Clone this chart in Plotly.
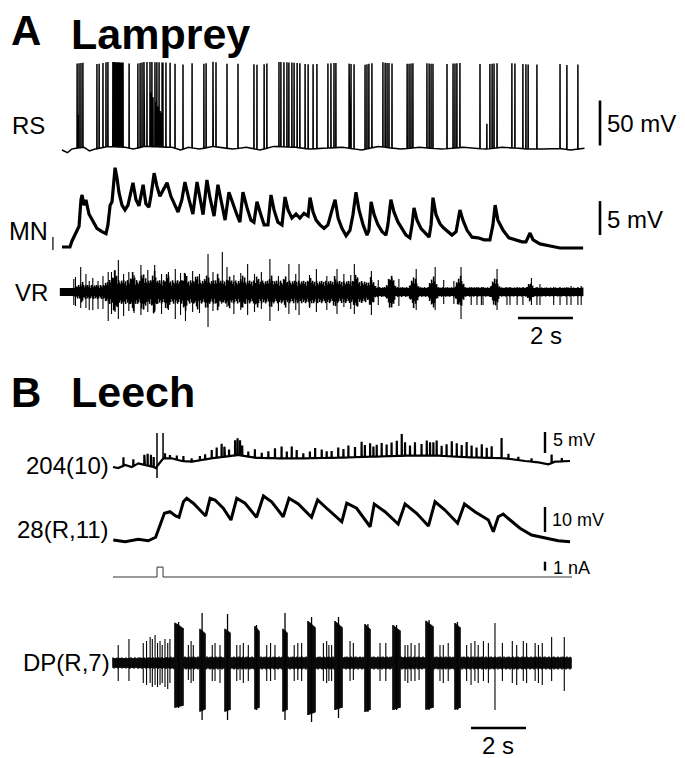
import numpy as np
import plotly.graph_objects as go

# =====================================================================
# DATA
# Panel A - lamprey. Time in s; potentials in mV relative to rest.
# =====================================================================
rs_spike_t = [0.55, 0.62, 0.69, 0.76, 1.27, 1.35, 1.49, 1.60, 1.67,
              1.85, 1.89, 1.93, 1.96, 2.00, 2.04, 2.07, 2.11, 2.15, 2.18, 2.22,
              2.44, 2.76, 2.84, 2.91, 2.98, 3.09, 3.20, 3.27, 3.38, 3.45, 3.53,
              3.64, 3.67, 3.78, 3.93, 4.11, 4.40, 4.73, 5.16, 5.24, 5.49, 5.60,
              6.00, 6.40, 6.98, 7.09, 7.35, 7.45, 7.89, 7.96, 8.07, 8.18, 8.25,
              8.36, 8.44, 8.55, 8.65, 8.84, 8.95, 9.13, 9.27, 9.67, 9.78, 9.89,
              9.96, 10.44, 10.51, 10.62, 11.02, 11.09, 11.16, 11.27, 11.67, 11.75,
              11.82, 11.89, 12.00, 12.55, 12.62, 12.69, 12.76, 13.27, 13.35, 13.42,
              13.49, 14.00, 14.22, 14.29, 14.36, 14.47, 15.20, 15.56, 15.64,
              15.71, 15.82, 16.36, 16.47, 16.76, 16.87, 16.95, 17.27, 18.11, 18.36, 18.76]
rs_spike_peak = 94.0
rs_short_t = [0.58, 3.24, 3.31, 3.42, 3.49, 3.57, 3.60, 10.47, 15.45]
rs_short_v = [37, 60, 55, 50, 45, 40, 38, 31, 28]
rs_base_t = [0.0, 0.2, 0.35, 0.5, 0.8, 1.0, 1.2, 1.7, 2.3, 2.6, 3.0, 4.0, 4.3, 4.6,
             5.0, 5.5, 6.2, 6.7, 7.2, 7.7, 8.5, 9.0, 9.5, 10.2, 10.9, 11.5, 12.3,
             13.0, 13.8, 14.6, 15.0, 15.4, 16.0, 16.6, 17.0, 17.5, 18.0, 18.5, 19.0]
rs_base_v = [0, -3, 1, 2, 3, -1, 1, 4, 3, 1, 4, 3, 0, 3, 1, 4, 1, 3, 0, 4, 3, 1, 2,
             3, 0, 4, 1, 3, 1, 3, 2, 1, 3, 2, 1, 1, 2, 0, 2]

mn_t = [0.00, 0.29, 0.36, 0.51, 0.62, 0.69, 0.73, 0.80, 0.87, 0.98, 1.13, 1.27, 1.45,
        1.60, 1.67, 1.75, 1.82, 1.89, 1.93, 2.00, 2.07, 2.18, 2.29, 2.40, 2.47, 2.58,
        2.69, 2.80, 2.95, 3.05, 3.16, 3.24, 3.35, 3.45, 3.56, 3.67, 3.82, 3.96, 4.11,
        4.22, 4.36, 4.47, 4.62, 4.76, 4.91, 5.02, 5.13, 5.27, 5.38, 5.53, 5.67, 5.78,
        5.93, 6.07, 6.22, 6.36, 6.47, 6.58, 6.73, 6.87, 6.98, 7.09, 7.20, 7.35, 7.49,
        7.60, 7.71, 7.85, 8.00, 8.11, 8.22, 8.36, 8.51, 8.65, 8.80, 8.95, 9.02, 9.13,
        9.24, 9.38, 9.53, 9.67, 9.82, 9.93, 10.04, 10.18, 10.33, 10.47, 10.58, 10.69,
        10.80, 10.95, 11.09, 11.16, 11.24, 11.35, 11.49, 11.64, 11.78, 11.85, 11.96,
        12.07, 12.22, 12.36, 12.51, 12.65, 12.73, 12.80, 12.91, 13.05, 13.20, 13.35,
        13.42, 13.49, 13.60, 13.75, 13.89, 14.04, 14.18, 14.33, 14.40, 14.47, 14.58,
        14.73, 14.91, 15.13, 15.35, 15.56, 15.67, 15.75, 15.85, 16.04, 16.25, 16.51,
        16.73, 16.87, 16.95, 17.02, 17.13, 17.38, 17.75, 18.11, 18.47, 18.95]
mn_v = [0.15, 0.15, 1.0, 2.2, 3.2, 7.1, 7.8, 6.3, 7.1, 5.0, 3.8, 2.9, 2.4,
        2.1, 3.4, 6.3, 6.8, 10.0, 11.8, 10.3, 8.2, 6.3, 5.6, 6.3, 7.8, 9.6,
        7.1, 6.2, 9.3, 6.5, 6.0, 7.8, 11.0, 9.1, 7.6, 8.5, 9.6, 7.6, 6.2,
        5.3, 7.1, 9.7, 7.1, 5.0, 9.7, 7.1, 4.9, 10.0, 7.4, 4.7, 9.3, 7.1,
        4.1, 8.2, 6.3, 4.9, 3.8, 8.2, 5.9, 4.1, 3.8, 6.8, 5.3, 3.4, 3.4,
        7.8, 5.6, 3.8, 3.4, 7.5, 5.6, 4.4, 5.0, 4.4, 5.1, 4.7, 7.4, 5.3,
        4.1, 3.4, 2.9, 3.4, 5.6, 7.1, 4.4, 2.9, 1.8, 2.6, 4.9, 8.2,
        5.6, 3.4, 1.9, 2.6, 6.8, 4.9, 3.4, 2.4, 1.9, 3.4, 7.1,
        5.3, 3.8, 2.9, 1.9, 1.5, 3.4, 5.9, 4.1, 2.9, 2.2, 1.6,
        3.4, 7.4, 4.9, 3.5, 2.9, 2.4, 1.9, 2.4, 4.1, 5.6, 4.1,
        2.6, 1.6, 1.5, 1.2, 1.2, 3.4, 6.3, 4.1, 2.6, 1.5, 1.2,
        0.9, 0.9, 1.5, 2.2, 1.2, 0.6, 0.3, 0.0, 0.0, 0.0]

# VR (arbitrary units): background envelope, bursts and single units
vr_env_t = [-0.05, 0.4, 0.6, 1.5, 1.7, 11.0, 11.3, 18.95]
vr_env_v = [4, 4, 7, 7, 12, 11, 5, 4.5]
vr_burst_t = [0.73, 1.93, 2.58, 2.95, 3.35, 3.82, 4.47, 4.91, 5.27, 5.67, 6.07, 6.58,
              7.09, 7.60, 8.11, 9.02, 9.93, 10.69, 11.24, 11.96, 12.80, 13.49, 14.47,
              15.75, 17.02]
vr_burst_amp = [11, 23, 21, 21, 23, 20, 21, 19, 19, 19, 18, 19, 17, 18, 17, 16, 17, 19,
                16, 19, 17, 17, 18, 16, 10]
vr_spike_t = [0.43, 0.68, 0.99, 1.31, 1.68, 2.05, 2.87, 3.37, 4.12, 4.49, 5.31, 5.83,
              6.00, 6.75, 7.56, 8.25, 8.62, 9.25, 10.00, 10.63, 11.25, 12.88, 13.57,
              14.51, 14.88, 15.09, 15.25, 15.31, 15.82, 16.18, 16.29, 16.55, 16.76,
              17.07, 17.27, 17.38, 17.88, 18.11, 18.36, 18.51, 18.76, 18.88]
vr_spike_up = [13, 25, 11, 11, 20, 32, 27, 27, 23, 18, 38, 40, 25, 28, 33, 28, 28, 23,
               23, 28, 21, 23, 25, 25, 5, 5, 5, 5, 23, 5, 5, 5, 5, 14, 5, 8, 5, 5, 5,
               6, 5, 6]
vr_spike_dn = [13, 16, 18, 17, 29, 27, 23, 20, 27, 29, 35, 10, 15, 23, 29, 22, 23, 20,
               22, 22, 23, 18, 18, 27, 13, 13, 13, 13, 18, 13, 13, 13, 13, 13, 13, 13,
               13, 13, 13, 13, 13, 13]
vr_unit_t = [0.49, 0.87, 1.12, 1.49, 1.80, 1.93, 2.24, 2.43, 2.62, 3.12, 3.62, 3.87,
             4.31, 4.75, 5.00, 5.49, 6.25, 6.50, 7.00, 7.25, 7.87, 8.50, 9.00, 9.63,
             10.25, 10.50, 11.50, 12.00, 12.25, 13.88, 14.25]
vr_unit_up = [15, 18, 14, 16, 20, 22, 18, 20, 17, 22, 18, 20, 19, 21, 18, 20, 17, 19,
              18, 20, 16, 18, 17, 16, 18, 17, 12, 14, 13, 12, 11]
vr_unit_dn = [14, 16, 18, 17, 22, 20, 24, 19, 21, 20, 22, 18, 23, 20, 21, 19, 22, 18,
              20, 17, 19, 18, 16, 18, 15, 17, 13, 12, 14, 12, 12]

# =====================================================================
# Panel B - leech
# =====================================================================
n204_base_t = [0.0, 0.19, 0.44, 0.68, 0.92, 1.16, 1.47, 1.55, 1.83, 2.13, 2.50, 2.86,
               3.22, 3.59, 4.07, 4.56, 5.16, 6.01, 6.98, 8.19, 9.41, 10.62, 11.83,
               13.04, 14.25, 14.98, 15.47, 15.83, 16.07, 16.62]
n204_base_v = [0.0, -0.24, 0.48, 0.0, 0.87, 0.48, 0.0, -0.24, 2.07, 2.07, 1.43, 1.27,
               1.67, 2.07, 2.46, 2.86, 2.22, 2.07, 2.07, 2.22, 2.46, 2.7, 2.7, 2.3,
               2.07, 1.43, 1.11, 0.63, 1.27, 1.43]
n204_spike_t = [0.38, 0.74, 1.14, 1.26, 1.38, 1.48, 1.89, 2.07, 2.32, 2.56, 2.86, 3.16,
                3.35, 3.59, 3.77, 3.95, 4.05, 4.22, 4.44, 4.53, 4.62, 4.70, 4.92, 5.16,
                5.41, 5.65, 5.89, 6.13, 6.32, 6.50, 6.68, 6.92, 7.16, 7.35, 7.59, 7.77,
                7.95, 8.19, 8.38, 8.56, 8.80, 9.04, 9.16, 9.35, 9.47, 9.59, 9.77, 9.95,
                10.13, 10.32, 10.50, 10.62, 10.80, 10.98, 11.22, 11.41, 11.53, 11.65,
                11.77, 11.95, 12.13, 12.32, 12.50, 12.68, 12.86, 13.04, 13.22, 13.41,
                13.59, 13.77, 14.13, 14.38, 14.74, 15.22, 15.95, 16.32]
n204_spike_h = [2.0, 1.6, 2.4, 2.8, 2.8, 2.4, 1.2, 0.8, 1.0, 1.2, 0.8, 1.0, 1.2, 2.0,
                2.4, 3.2, 2.4, 1.6, 3.6, 4.0, 3.6, 2.4, 1.2, 2.0, 1.2, 1.6, 2.4, 2.8,
                1.6, 2.8, 2.0, 1.2, 1.6, 2.4, 2.0, 1.6, 1.6, 2.4, 2.0, 2.8, 2.4, 3.6,
                2.8, 3.2, 2.4, 2.8, 3.2, 2.8, 3.2, 3.6, 5.2, 3.2, 2.4, 3.2, 2.8, 3.6,
                3.2, 3.2, 3.6, 2.4, 2.8, 3.6, 3.2, 2.8, 3.6, 2.8, 2.4, 3.2, 2.4, 2.8,
                4.8, 1.2, 0.8, 0.8, 2.0, 0.8]
n204_big_t = [1.60, 1.82]
n204_big_lo = [-2.6, 2.0]
n204_big_hi = [8.1, 8.1]

n28_t = [0.01, 0.44, 0.92, 1.28, 1.55, 1.71, 1.87, 2.07, 2.28, 2.40, 2.56, 2.68, 2.92,
         3.16, 3.37, 3.53, 3.71, 4.01, 4.29, 4.50, 4.80, 5.22, 5.47, 5.77, 6.19, 6.40,
         6.74, 7.22, 7.44, 7.77, 8.32, 8.50, 8.86, 9.35, 9.50, 9.89, 10.37, 10.62,
         11.04, 11.47, 11.71, 12.07, 12.53, 12.78, 13.16, 13.65, 13.83, 14.01, 14.19,
         14.44, 14.80, 15.22, 15.71, 16.19, 16.62]
n28_v = [0.4, -0.3, 0.7, 0.1, 1.5, 6.4, 11.1, 11.7, 10.0, 9.5, 15.7, 17.1, 15.1, 12.4,
         10.0, 17.1, 16.4, 13.1, 8.4, 17.1, 15.1, 9.5, 18.0, 15.7, 9.7, 17.1, 14.8,
         9.5, 16.4, 13.1, 7.7, 15.1, 13.1, 5.7, 14.8, 11.7, 6.8, 14.8, 11.1, 6.0, 15.7,
         12.4, 7.1, 14.8, 11.7, 8.4, 3.7, 9.7, 10.8, 8.4, 5.1, 2.4, 1.1, 0.1, -0.3]

stim_t = [0.0, 1.60, 1.60, 1.82, 1.82, 16.69]
stim_v = [0.0, 0.0, 1.1, 1.1, 0.0, 0.0]

dp_env_t = [0.0, 2.0, 2.3, 16.69]
dp_env_v = [5.5, 6.0, 6.5, 6.5]
dp_burst_t0 = [2.22, 3.13, 4.04, 5.13, 6.15, 7.09, 8.07, 9.16, 10.18, 11.35, 12.40]
dp_burst_t1 = [2.55, 3.35, 4.29, 5.31, 6.36, 7.35, 8.33, 9.38, 10.44, 11.64, 12.65]
dp_burst_top = [41, 35, 35, 38, 35, 42, 42, 39, 38, 43, 41]
dp_burst_bot = [45, 49, 49, 47, 49, 52, 47, 49, 47, 47, 47]
dp_burst_pk_up = [41, 50, 49, 38, 50, 46, 46, 39, 38, 43, 41]
dp_burst_pk_dn = [45, 57, 57, 47, 57, 59, 55, 49, 47, 47, 47]
dp_spike_t = [0.19, 0.58, 1.10, 1.22, 1.35, 1.43, 1.53, 1.62, 1.71, 1.79, 1.89, 1.99,
              2.07, 2.74, 2.84, 2.92, 3.61, 3.71, 3.89, 4.50, 4.62, 4.74, 4.92, 5.59,
              5.73, 5.89, 6.59, 6.72, 6.86, 7.65, 7.77, 7.85, 7.95, 8.62, 8.74, 9.71,
              9.92, 10.62, 10.72, 10.84, 10.98, 11.13, 11.89, 12.01, 12.19, 12.86,
              13.02, 13.16, 13.28, 13.47, 13.65, 13.89, 14.16, 14.52, 14.68, 14.92,
              15.04, 15.35, 15.47, 15.61, 15.95, 16.41]
dp_spike_up = [18, 24, 20, 22, 26, 24, 28, 20, 22, 18, 24, 20, 24, 18, 22, 18, 18, 20,
               18, 18, 18, 20, 18, 18, 20, 18, 18, 20, 20, 20, 22, 18, 18, 22, 20, 20,
               20, 18, 18, 20, 18, 20, 18, 18, 20, 18, 20, 22, 18, 22, 20, 40, 20, 22,
               18, 22, 20, 20, 18, 20, 26, 26]
dp_spike_dn = [18, 18, 20, 22, 20, 24, 22, 24, 22, 20, 24, 26, 20, 17, 20, 18, 18, 18,
               20, 18, 17, 20, 18, 18, 18, 17, 18, 17, 18, 18, 20, 18, 18, 18, 17, 18,
               18, 18, 20, 18, 18, 17, 18, 20, 18, 18, 22, 18, 20, 18, 20, 47, 18, 20,
               22, 18, 20, 18, 20, 22, 18, 28]

# =====================================================================
# LAYOUT / STYLE (pixels)
# =====================================================================
W, H = 685, 758
PX_PER_S = 27.5
XA0, XB0 = 62, 113            # pixel column of t = 0 in panel A / B
ROWS = {                      # baseline pixel row, pixels per unit
    'y': (150, 0.9),          # RS   (mV)
    'y2': (248, 6.8),         # MN   (mV)
    'y3': (292, 1.0),         # VR   (a.u.)
    'y4': (467, 4.2),         # 204  (mV)
    'y5': (541, 2.5),         # 28   (mV)
    'y6': (577, 9.0),         # I    (nA)
    'y7': (663, 1.0),         # DP   (a.u.)
}
TEX_UP = [1.0, 0.7, 0.9, 0.55, 1.0, 0.8, 0.65, 0.95, 0.75]
TEX_DN = [0.8, 1.0, 0.6, 0.9, 0.7, 1.0, 0.85, 0.6]
FONT = 'Liberation Sans, Arial, sans-serif'

fig = go.Figure()


def add_line(x, y, xa, ya, width, color='black'):
    fig.add_trace(go.Scatter(x=x, y=y, xaxis=xa, yaxis=ya, mode='lines',
                             line=dict(color=color, width=width),
                             hoverinfo='skip', showlegend=False))


def spike_path(bt, bv, st, sh, dt=0.008):
    pts = list(zip(bt, bv))
    for t, h in zip(st, sh):
        b = float(np.interp(t, bt, bv))
        pts += [(t - dt / 2, b), (t, b + h), (t + dt / 2, b)]
    pts.sort(key=lambda p: p[0])
    return [p[0] for p in pts], [p[1] for p in pts]


def segments(ts, lo, hi):
    xs, ys = [], []
    for t, a, b in zip(ts, lo, hi):
        xs += [t, t, None]
        ys += [a, b, None]
    return xs, ys


def textured(env):
    n = len(env)
    up = np.array([TEX_UP[i % len(TEX_UP)] for i in range(n)]) * env
    dn = np.array([TEX_DN[i % len(TEX_DN)] for i in range(n)]) * env
    return -np.maximum(dn, 4.0), np.maximum(up, 4.0)


# ---- RS ----
x, y = spike_path(rs_base_t, rs_base_v, rs_spike_t + rs_short_t,
                  [rs_spike_peak] * len(rs_spike_t) + rs_short_v)
add_line(x, y, 'x', 'y', 1.5)

# ---- MN ----
add_line(mn_t, mn_v, 'x', 'y2', 3.2)

# ---- VR ----
tA = np.arange(vr_env_t[0], vr_env_t[-1], 1 / PX_PER_S)
env = np.interp(tA, vr_env_t, vr_env_v)
for tc, a in zip(vr_burst_t, vr_burst_amp):
    env = np.maximum(env, a * np.clip(1 - np.abs(tA - tc) / 0.26, 0, 1))
lo, hi = textured(env)
x, y = segments(tA, lo, hi)
add_line(x, y, 'x', 'y3', 1.6)
x, y = segments(vr_spike_t + vr_unit_t,
                [-d for d in vr_spike_dn + vr_unit_dn], vr_spike_up + vr_unit_up)
add_line(x, y, 'x', 'y3', 1.1)

# ---- 204(10) ----
x, y = spike_path(n204_base_t, n204_base_v, n204_spike_t, n204_spike_h)
add_line(x, y, 'x2', 'y4', 2.2)
x, y = segments(n204_big_t, n204_big_lo, n204_big_hi)
add_line(x, y, 'x2', 'y4', 1.5)

# ---- 28(R,11) ----
add_line(n28_t, n28_v, 'x2', 'y5', 3.0)

# ---- current ----
add_line(stim_t, stim_v, 'x2', 'y6', 1.0, '#333333')

# ---- DP(R,7) ----
tB = np.arange(dp_env_t[0], dp_env_t[-1], 1 / PX_PER_S)
envB = np.interp(tB, dp_env_t, dp_env_v)
lo, hi = textured(envB)
lo = np.minimum(lo, -envB * 0.85)
hi = np.maximum(hi, envB * 0.85)
for t0, t1, tp, bt in zip(dp_burst_t0, dp_burst_t1, dp_burst_top, dp_burst_bot):
    m = (tB >= t0) & (tB <= t1)
    frac = (tB[m] - t0) / (t1 - t0)
    hi[m] = tp * (1 - 0.15 * frac)
    lo[m] = -bt * (1 - 0.05 * frac)
x, y = segments(tB, lo, hi)
add_line(x, y, 'x2', 'y7', 1.6)
mids = [(a + b) / 2 for a, b in zip(dp_burst_t0, dp_burst_t1)]
x, y = segments(mids, [-d for d in dp_burst_pk_dn], dp_burst_pk_up)
add_line(x, y, 'x2', 'y7', 1.3)
x, y = segments(dp_spike_t, [-d for d in dp_spike_dn], dp_spike_up)
add_line(x, y, 'x2', 'y7', 1.1)

# ---- scale bars (in each trace's own units) ----
tA_bar = (600 - XA0) / PX_PER_S
add_line([tA_bar, tA_bar], [5, 55], 'x', 'y', 2.6)            # 50 mV
add_line([tA_bar, tA_bar], [1.9, 6.9], 'x', 'y2', 2.6)        # 5 mV
add_line([16.58, 18.58], [-26, -26], 'x', 'y3', 2.4)          # 2 s
tB_bar = (545 - XB0) / PX_PER_S
add_line([tB_bar, tB_bar], [3.33, 8.33], 'x2', 'y4', 2.4)     # 5 mV
add_line([tB_bar, tB_bar], [3.6, 13.6], 'x2', 'y5', 2.4)      # 10 mV
add_line([tB_bar, tB_bar], [0.7, 1.7], 'x2', 'y6', 2.4)       # 1 nA
add_line([13.02, 15.02], [-65, -65], 'x2', 'y7', 2.4)         # 2 s
add_line([-0.33, -0.33], [-0.3, 1.6], 'x', 'y2', 1.2)         # MN tick


# ---- text ----
def ann(text, xp, yp, size, xanchor='left'):
    fig.add_annotation(x=xp / W, y=1 - yp / H, xref='paper', yref='paper', text=text,
                       showarrow=False, xanchor=xanchor, yanchor='middle',
                       font=dict(family=FONT, size=size, color='black'))


ann('<b>A</b>', 9, 31, 42)
ann('<b>Lamprey</b>', 69, 34, 43)
ann('<b>B</b>', 9, 392, 42)
ann('<b>Leech</b>', 69, 392, 43)
ann('RS', 10, 125, 24)
ann('MN', 7, 231, 25)
ann('VR', 13, 292, 24)
ann('50 mV', 605, 124, 24)
ann('5 mV', 605, 219, 24)
ann('2 s', 546, 335, 24, 'center')
ann('204(10)', 111, 465, 24, 'right')
ann('28(R,11)', 111, 529, 24, 'right')
ann('DP(R,7)', 112, 662, 24, 'right')
ann('5 mV', 551, 440, 18)
ann('10 mV', 550, 520, 18)
ann('1 nA', 551, 568, 18)
ann('2 s', 498, 745, 24, 'center')

# ---- axes ----
def yax(key, overlay):
    y0, k = ROWS[key]
    d = dict(domain=[0, 1], range=[(y0 - H) / k, y0 / k], visible=False,
             fixedrange=True, showgrid=False, zeroline=False)
    if overlay:
        d['overlaying'] = 'y'
    return d


layout = dict(
    width=W, height=H, margin=dict(l=0, r=0, t=0, b=0),
    paper_bgcolor='white', plot_bgcolor='rgba(0,0,0,0)', showlegend=False,
    xaxis=dict(domain=[0, 1], range=[-XA0 / PX_PER_S, (W - XA0) / PX_PER_S],
               visible=False, fixedrange=True),
    xaxis2=dict(domain=[0, 1], range=[-XB0 / PX_PER_S, (W - XB0) / PX_PER_S],
                visible=False, fixedrange=True, overlaying='x'),
)
for i, key in enumerate(ROWS):
    name = 'yaxis' if key == 'y' else 'yaxis' + key[1:]
    layout[name] = yax(key, i > 0)
fig.update_layout(**layout)

fig.write_html('out.html', config={'displayModeBar': False},
               post_script="document.body.style.margin='0px';"
                           "document.body.style.overflow='hidden';")
